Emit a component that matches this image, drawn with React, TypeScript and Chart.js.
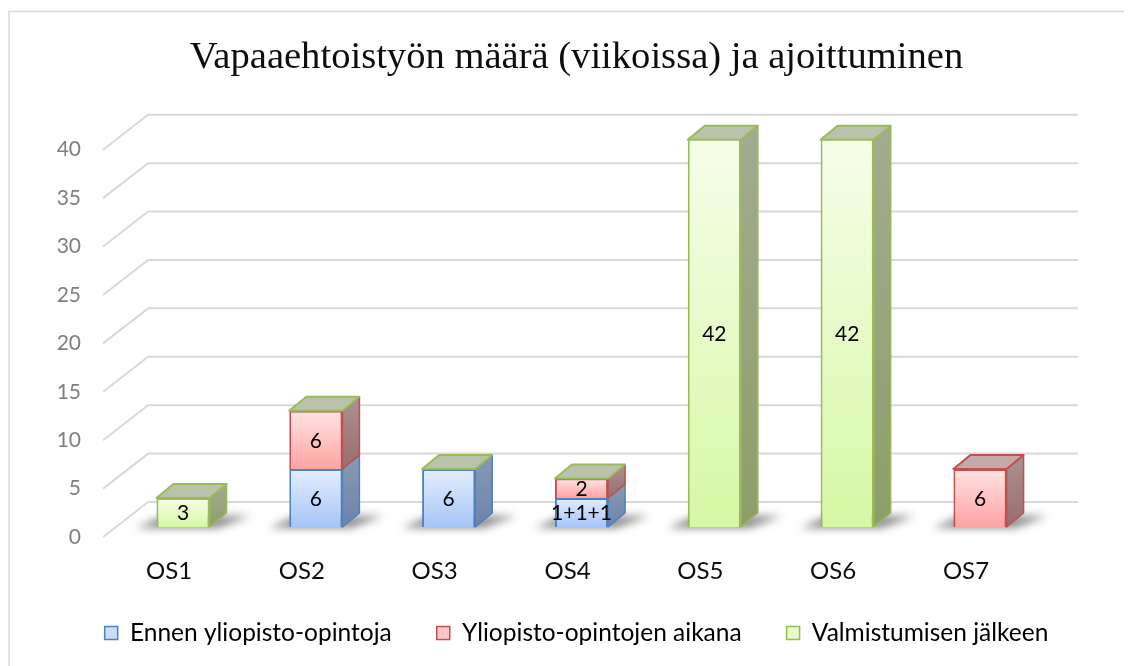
import React, { useEffect, useRef } from 'react';
import { Chart, registerables } from 'chart.js';

Chart.register(...registerables);

// ---------------- data ----------------
const categories = ['OS1', 'OS2', 'OS3', 'OS4', 'OS5', 'OS6', 'OS7'];
const seriesNames = ['Ennen yliopisto-opintoja', 'Yliopisto-opintojen aikana', 'Valmistumisen jälkeen'];
const beforeStudies: (number | null)[] = [null, 6, 6, 3, null, null, null];
const duringStudies: (number | null)[] = [null, 6, 0, 2, null, null, 6];
const afterGraduation: (number | null)[] = [3, 0, 0, 0, 42, 42, null];
const beforeLabels = ['', '6', '6', '1+1+1', '', '', ''];
const duringLabels = ['', '6', '', '2', '', '', '6'];
const afterLabels = ['3', '', '', '', '42', '42', ''];
const yMin = 0;
const yMax = 40;
const yStep = 5;
const titleText = 'Vapaaehtoistyön määrä (viikoissa) ja ajoittuminen';

// ---------------- styles ----------------
const W = 1124;
const H = 658;
const DX = 17;
const DY = -14;
const seriesValues = [beforeStudies, duringStudies, afterGraduation];
const seriesLabels = [beforeLabels, duringLabels, afterLabels];
const frontLight = ['#e4eefd', '#ffe4e4', '#f6fdea'];
const frontDark = ['#a5c5f6', '#ffa2a2', '#d6f8a4'];
const borderCols = ['#4f81bd', '#c0504d', '#9bbb59'];
const sideTop = ['#8799b5', '#ae9090', '#a3ab90'];
const sideBot = ['#6c84ab', '#9a6d6d', '#8c9f68'];
const topCols = ['#aab6c8', '#c3a9a9', '#b9c3ac'];
const legendFill = ['#c9dcf9', '#ffc6c6', '#e8fbc9'];
const gridCol = '#d9d9d9';

function segRange(di: number, i: number) {
  let base = 0;
  for (let k = 0; k < di; k++) base += seriesValues[k][i] ?? 0;
  const v = seriesValues[di][i] ?? 0;
  return [base, base + v];
}

function frontFill(di: number) {
  return (c: any) => {
    const chart = c.chart;
    const area = chart.chartArea;
    const y = chart.scales?.y;
    if (!area || !y || c.type !== 'data') return legendFill[di];
    const [b, t] = segRange(di, c.dataIndex);
    const bot = Math.min(y.getPixelForValue(b), area.bottom);
    const top = Math.max(y.getPixelForValue(t), area.top);
    if (bot - top < 1) return legendFill[di];
    const g = chart.ctx.createLinearGradient(0, top, 0, bot);
    g.addColorStop(0, frontLight[di]);
    g.addColorStop(1, frontDark[di]);
    return g;
  };
}

const threeD = {
  id: 'threeD',
  beforeDatasetsDraw(chart: any) {
    const { ctx, chartArea, scales } = chart;
    const y = scales.y;
    ctx.save();
    // outer frame
    ctx.strokeStyle = gridCol;
    ctx.lineWidth = 1.5;
    ctx.strokeRect(1, 3.5, W + 20, H + 20);
    // 3D gridlines
    ctx.strokeStyle = gridCol;
    ctx.lineWidth = 2;
    y.ticks.forEach((t: any) => {
      const py = y.getPixelForValue(t.value);
      const fx = chartArea.left - 13.5;
      const fy = py + 10;
      const bx = chartArea.left + 31.5;
      const by = py - 25;
      const rx = chartArea.right + 31.5;
      ctx.beginPath();
      ctx.moveTo(fx, fy);
      ctx.lineTo(bx, by);
      ctx.lineTo(rx, by);
      ctx.stroke();
    });
    // floor shadows
    const meta0 = chart.getDatasetMeta(0);
    categories.forEach((_, i) => {
      const el = meta0.data[i];
      if (!el) return;
      const left = el.x - el.width / 2;
      const right = el.x + el.width / 2;
      const bottom = y.getPixelForValue(0);
      ctx.save();
      ctx.filter = 'blur(4px)';
      ctx.fillStyle = 'rgba(40,40,40,0.55)';
      ctx.beginPath();
      ctx.moveTo(left - 20, bottom + 1);
      ctx.lineTo(right + 8, bottom + 1);
      ctx.lineTo(right + DX + 24, bottom + DY + 3);
      ctx.lineTo(left + DX - 10, bottom + DY + 3);
      ctx.closePath();
      ctx.fill();
      ctx.restore();
    });
    ctx.restore();
  },
  afterDatasetsDraw(chart: any) {
    const { ctx, chartArea } = chart;
    ctx.save();
    categories.forEach((_, i) => {
      let topDs = -1;
      let topY = 0, topL = 0, topR = 0;
      for (let di = 0; di < seriesValues.length; di++) {
        if (seriesValues[di][i] === null) continue;
        const el = chart.getDatasetMeta(di).data[i];
        if (!el) continue;
        const left = el.x - el.width / 2;
        const right = el.x + el.width / 2;
        const top = Math.max(Math.min(el.y, el.base), chartArea.top);
        const bottom = Math.min(Math.max(el.y, el.base), chartArea.bottom);
        if (bottom - top > 0.5) {
          const g = ctx.createLinearGradient(0, top + DY, 0, bottom);
          g.addColorStop(0, sideTop[di]);
          g.addColorStop(1, sideBot[di]);
          ctx.beginPath();
          ctx.moveTo(right, top);
          ctx.lineTo(right + DX, top + DY);
          ctx.lineTo(right + DX, bottom + DY);
          ctx.lineTo(right, bottom);
          ctx.closePath();
          ctx.fillStyle = g;
          ctx.fill();
          ctx.strokeStyle = borderCols[di];
          ctx.lineWidth = 1.5;
          ctx.lineJoin = 'round';
          ctx.stroke();
        }
        topDs = di;
        topY = top;
        topL = left;
        topR = right;
      }
      if (topDs >= 0) {
        ctx.beginPath();
        ctx.moveTo(topL, topY);
        ctx.lineTo(topL + DX, topY + DY);
        ctx.lineTo(topR + DX, topY + DY);
        ctx.lineTo(topR, topY);
        ctx.closePath();
        ctx.fillStyle = topCols[topDs];
        ctx.fill();
        ctx.strokeStyle = borderCols[topDs];
        ctx.lineWidth = 2;
        ctx.lineJoin = 'round';
        ctx.stroke();
      }
    });
    // data labels
    ctx.fillStyle = '#000';
    ctx.font = '21px Lato';
    ctx.textAlign = 'center';
    ctx.textBaseline = 'middle';
    seriesLabels.forEach((labels, di) => {
      const meta = chart.getDatasetMeta(di);
      labels.forEach((txt, i) => {
        if (!txt) return;
        const el = meta.data[i];
        if (!el) return;
        const top = Math.max(Math.min(el.y, el.base), chartArea.top);
        const bottom = Math.min(Math.max(el.y, el.base), chartArea.bottom);
        ctx.fillText(txt, el.x, (top + bottom) / 2 + 1);
      });
    });
    ctx.restore();
  },
};

export default function App() {
  const ref = useRef<HTMLCanvasElement | null>(null);
  useEffect(() => {
    if (!ref.current) return;
    Chart.defaults.font.family = 'Lato';
    const chart = new Chart(ref.current, {
      type: 'bar',
      data: {
        labels: categories,
        datasets: seriesValues.map((vals, di) => ({
          label: seriesNames[di],
          data: vals,
          backgroundColor: frontFill(di),
          borderColor: borderCols[di],
          borderWidth: 2,
          borderSkipped: 'bottom',
          barPercentage: 0.4,
          categoryPercentage: 1,
          clip: 0,
          yAxisID: 'y',
        })),
      },
      options: {
        responsive: false,
        animation: false,
        devicePixelRatio: 1,
        layout: { padding: { left: 13, right: 0, top: 0, bottom: 10.75 } },
        plugins: {
          tooltip: { enabled: false },
          title: {
            display: true,
            text: titleText,
            color: '#0d0d0d',
            font: { family: "'Liberation Serif', 'Times New Roman', serif", size: 38.6, weight: 'normal' },
            padding: { top: 27, bottom: 58.4 },
          },
          legend: {
            display: true,
            position: 'bottom',
            labels: {
              color: '#000',
              font: { size: 24.5 },
              boxWidth: 13,
              boxHeight: 13,
              padding: 45,
              generateLabels: () =>
                seriesNames.map((n, i) => ({
                  text: n,
                  fillStyle: legendFill[i],
                  strokeStyle: borderCols[i],
                  lineWidth: 1.5,
                  hidden: false,
                  datasetIndex: i,
                  fontColor: '#000',
                })),
            },
          },
        },
        scales: {
          x: {
            stacked: true,
            grid: { display: false, drawTicks: false },
            border: { display: false },
            ticks: { color: '#0d0d0d', font: { size: 24 }, mirror: true, padding: -58.4, labelOffset: -14 },
            afterFit: (s: any) => { s.height = 48.75; },
          },
          y: {
            stacked: true,
            min: yMin,
            max: yMax,
            grid: { display: false, drawTicks: false },
            border: { display: false },
            ticks: { stepSize: yStep, color: '#7f7f7f', font: { size: 21 }, padding: 35.6, labelOffset: 10 },
            afterFit: (s: any) => { s.width = 95.6; },
          },
          y2: {
            position: 'right',
            display: true,
            grid: { display: false, drawTicks: false },
            border: { display: false },
            ticks: { display: false },
            afterFit: (s: any) => { s.width = 85.6; },
          },
        },
      },
      plugins: [threeD],
    } as any);
    return () => chart.destroy();
  }, []);
  return (
    <canvas ref={ref} width={W} height={H} style={{ display: 'block', width: W, height: H }} />
  );
}
